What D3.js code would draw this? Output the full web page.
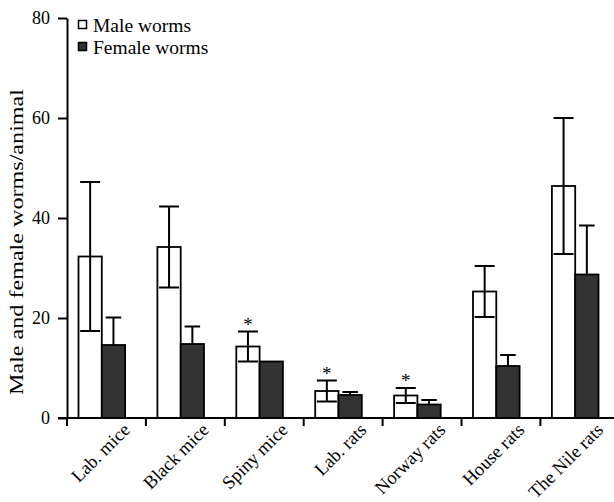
<!DOCTYPE html>
<html>
<head>
<meta charset="utf-8">
<script src="https://cdn.jsdelivr.net/npm/d3@7"></script>
<style>
  body { margin: 0; background: #fff; }
  svg { display: block; }
  text { font-family: "Liberation Serif", "Times New Roman", serif; fill: #000; }
</style>
</head>
<body>
<svg id="chart" width="614" height="502"></svg>
<script>
// Mean worm burden per animal (± error) by host
const categories = ["Lab. mice", "Black mice", "Spiny mice", "Lab. rats", "Norway rats", "House rats", "The Nile rats"];
const maleWorms = [32.3, 34.2, 14.3, 5.4, 4.5, 25.3, 46.4];
const maleErr = [14.9, 8.1, 3.0, 2.1, 1.5, 5.1, 13.6];
const femaleWorms = [14.6, 14.8, 11.3, 4.6, 2.7, 10.4, 28.7];
const femaleErr = [5.5, 3.5, 0, 0.6, 0.9, 2.2, 9.8];
const significant = [false, false, true, true, true, false, false];
const yTicks = [0, 20, 40, 60, 80];
const seriesNames = ["Male worms", "Female worms"];

const svg = d3.select("#chart");
const baseY = 418;
const axisX = 67;

const y = d3.scaleLinear().domain([0, 80]).range([baseY, 18]);
const x = d3.scaleBand().domain(categories).range([axisX, axisX + 7 * 78.9]);
const barW = 23.3;
const sub = d3.scaleBand().domain(["male", "female"]).range([11.5, 11.5 + 2 * barW]);

const rows = categories.map((c, i) => ({
  cat: c, male: maleWorms[i], mErr: maleErr[i],
  female: femaleWorms[i], fErr: femaleErr[i], sig: significant[i]
}));

// error bar: stem plus cap(s)
function errBar(g, cx, v, e, capW, both) {
  if (e <= 0) return;
  const top = y(v + e), bot = both ? y(v - e) : y(v);
  g.append("line").attr("x1", cx).attr("x2", cx).attr("y1", top).attr("y2", bot)
    .attr("stroke", "#000").attr("stroke-width", 2);
  g.append("line").attr("x1", cx - capW / 2).attr("x2", cx + capW / 2).attr("y1", top).attr("y2", top)
    .attr("stroke", "#000").attr("stroke-width", 2);
  if (both) {
    g.append("line").attr("x1", cx - capW / 2).attr("x2", cx + capW / 2).attr("y1", bot).attr("y2", bot)
      .attr("stroke", "#000").attr("stroke-width", 2);
  }
}

const plot = svg.append("g");

rows.forEach(d => {
  const g = plot.append("g");
  const mx = x(d.cat) + sub("male");
  const fx = x(d.cat) + sub("female");
  // female error bar sits behind its bar
  errBar(g, fx + barW / 2, d.female, d.fErr, 15.5, false);
  g.append("rect").attr("x", mx).attr("y", y(d.male)).attr("width", barW)
    .attr("height", baseY - y(d.male)).attr("fill", "#fff").attr("stroke", "#000").attr("stroke-width", 1.8);
  g.append("rect").attr("x", fx).attr("y", y(d.female)).attr("width", barW)
    .attr("height", baseY - y(d.female)).attr("fill", "#333").attr("stroke", "#000").attr("stroke-width", 1.8);
  errBar(g, mx + barW / 2, d.male, d.mErr, 20, true);
  if (d.sig) {
    g.append("text").attr("x", mx + barW / 2).attr("y", y(d.male + d.mErr) - 1)
      .attr("text-anchor", "middle").attr("font-size", 19)
      .style("fill", "#000").text("*");
  }
});

// y axis
const yAxis = d3.axisLeft(y).tickValues(yTicks).tickSize(9).tickSizeOuter(0).tickPadding(8);
const ya = svg.append("g").attr("transform", `translate(${axisX},0)`).call(yAxis);
ya.select(".domain").attr("stroke-width", 2);
ya.selectAll(".tick line").attr("stroke-width", 2);
ya.selectAll(".tick text").attr("font-size", 18).attr("font-family", "Liberation Serif, serif").attr("fill", "#000");

// x axis baseline and category ticks
svg.append("line").attr("x1", 58).attr("x2", 614).attr("y1", baseY).attr("y2", baseY)
  .attr("stroke", "#000").attr("stroke-width", 2);
svg.append("g").selectAll("line").data(categories).join("line")
  .attr("x1", d => x(d)).attr("x2", d => x(d)).attr("y1", baseY).attr("y2", baseY + 8)
  .attr("stroke", "#000").attr("stroke-width", 2);
svg.append("g").selectAll("text").data(categories).join("text")
  .attr("transform", d => `translate(${x(d) + 64},${baseY + 13}) rotate(-45)`)
  .attr("text-anchor", "end").attr("font-size", 18.5).text(d => d);

// y axis title, stretched along its run
svg.append("text").attr("transform", `translate(23,242) rotate(-90)`)
  .attr("text-anchor", "middle").attr("font-size", 19.5)
  .attr("textLength", 306).attr("lengthAdjust", "spacingAndGlyphs")
  .text("Male and female worms/animal");

// legend
const legend = svg.append("g");
seriesNames.forEach((s, i) => {
  const ly = 20.5 + i * 22;
  legend.append("rect").attr("x", 78.5).attr("y", ly).attr("width", 8).attr("height", 8)
    .attr("fill", i === 0 ? "#fff" : "#333").attr("stroke", "#000").attr("stroke-width", 1.5);
  legend.append("text").attr("x", 93).attr("y", ly + 11).attr("font-size", 19.5).text(s);
});
</script>
</body>
</html>
